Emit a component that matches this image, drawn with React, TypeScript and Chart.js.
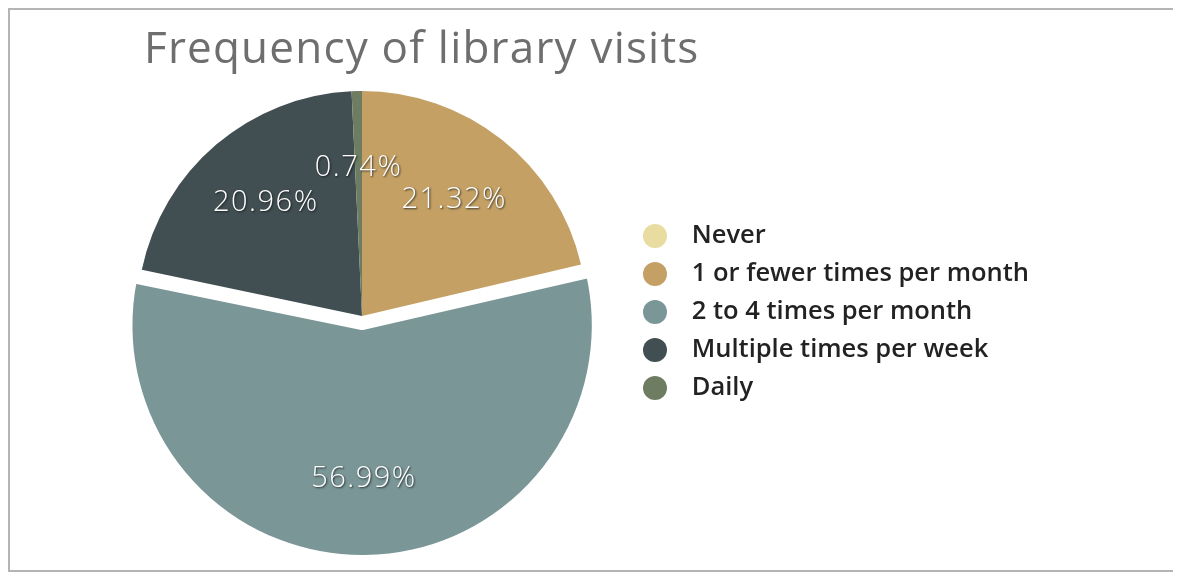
import React, { useEffect, useRef } from 'react';
import { Chart, registerables } from 'chart.js';

Chart.register(...registerables);

const chartTitle = 'Frequency of library visits';
const categories = [
  'Never',
  '1 or fewer times per month',
  '2 to 4 times per month',
  'Multiple times per week',
  'Daily',
];
const shares = [0, 21.32, 56.99, 20.96, 0.74];
const sliceColors = ['#e8dca0', '#c4a064', '#7b9697', '#414e52', '#6e7d62'];
const explodedIndex = 2;

const CANVAS_W = 1167;
const CANVAS_H = 560;
const LEGEND_FONT_SIZE = 25.5;
const LEGEND_FONT = `600 ${LEGEND_FONT_SIZE}px "Open Sans"`;
const LEGEND_PAD = 12.5;
const DOT_BOX = 36;
const LEGEND_LEFT = 620.5;

const makeDot = (color: string) => {
  const c = document.createElement('canvas');
  c.width = DOT_BOX;
  c.height = 26;
  const g = c.getContext('2d')!;
  g.fillStyle = color;
  g.beginPath();
  g.arc(12, 13, 12, 0, Math.PI * 2);
  g.fill();
  return c;
};

const titlePlugin = {
  id: 'pageTitle',
  afterDraw(chart: any) {
    const ctx = chart.ctx;
    ctx.save();
    ctx.font = '400 44px "Open Sans"';
    ctx.fillStyle = '#6e6e6e';
    ctx.textAlign = 'left';
    ctx.textBaseline = 'alphabetic';
    (ctx as any).letterSpacing = '1.2px';
    ctx.fillText(chartTitle, 134, 53);
    ctx.restore();
  },
};

const sliceLabelPlugin = {
  id: 'sliceLabels',
  afterDatasetsDraw(chart: any) {
    const meta = chart.getDatasetMeta(0);
    const ctx = chart.ctx;
    ctx.save();
    ctx.font = '300 29px "Open Sans"';
    ctx.textAlign = 'center';
    ctx.textBaseline = 'middle';
    ctx.fillStyle = '#ffffff';
    ctx.shadowColor = 'rgba(20,25,25,0.8)';
    ctx.shadowBlur = 2;
    ctx.shadowOffsetX = 1;
    ctx.shadowOffsetY = 1;
    (ctx as any).letterSpacing = '1.5px';
    meta.data.forEach((arc: any, i: number) => {
      const v = shares[i];
      if (!v) return;
      const p = arc.getProps(['x', 'y', 'startAngle', 'endAngle', 'outerRadius'], true);
      const mid = (p.startAngle + p.endAngle) / 2;
      const shift = (arc.options.offset || 0) / 4 + (arc.options.borderWidth || 0) / 2;
      const r = shift + p.outerRadius * 0.66;
      ctx.fillText(v.toFixed(2) + '%', p.x + Math.cos(mid) * r, p.y + Math.sin(mid) * r);
    });
    ctx.restore();
  },
};

export default function App() {
  const ref = useRef<HTMLCanvasElement | null>(null);

  useEffect(() => {
    if (!ref.current) return;
    const dots = sliceColors.map(makeDot);

    // measure legend width so the legend's left edge lands where intended
    const mctx = document.createElement('canvas').getContext('2d')!;
    mctx.font = LEGEND_FONT;
    const maxText = Math.max(...categories.map((t) => mctx.measureText(t).width));
    const legendW = LEGEND_PAD + DOT_BOX + LEGEND_FONT_SIZE / 2 + maxText + 10;
    const padRight = CANVAS_W - LEGEND_LEFT - legendW;
    const padLeft = 2 * 352 - LEGEND_LEFT;

    const chart = new Chart(ref.current, {
      type: 'pie',
      data: {
        labels: categories,
        datasets: [
          {
            data: shares,
            backgroundColor: sliceColors,
            borderColor: '#ffffff',
            borderWidth: categories.map((_, i) => (i === explodedIndex ? 9.33 : 0)),
            borderAlign: 'center',
            offset: categories.map((_, i) => (i === explodedIndex ? 37.33 : 0)),
            hoverOffset: 0,
            hoverBorderWidth: 0,
          } as any,
        ],
      },
      options: {
        responsive: false,
        animation: false,
        events: [],
        layout: { padding: { left: padLeft, right: padRight, top: 49.67, bottom: 5.67 } },
        plugins: {
          tooltip: { enabled: false },
          title: { display: false },
          subtitle: {
            display: true,
            text: ' ',
            padding: 0,
            font: { size: 10, lineHeight: 0.8 },
          },
          legend: {
            display: true,
            position: 'right',
            align: 'center',
            labels: {
              usePointStyle: true,
              pointStyleWidth: DOT_BOX,
              padding: LEGEND_PAD,
              color: '#222222',
              font: { family: '"Open Sans"', size: LEGEND_FONT_SIZE, weight: '600' },
              generateLabels: () =>
                categories.map((text, i) => ({
                  text,
                  fillStyle: sliceColors[i],
                  strokeStyle: sliceColors[i],
                  lineWidth: 0,
                  pointStyle: dots[i],
                  hidden: false,
                  index: i,
                  fontColor: '#222222',
                })),
            },
          },
        },
      } as any,
      plugins: [titlePlugin, sliceLabelPlugin],
    });
    return () => chart.destroy();
  }, []);

  return (
    <div
      style={{
        width: 1171,
        height: 564,
        border: '2px solid #b4b4b4',
        boxSizing: 'border-box',
        background: '#ffffff',
      }}
    >
      <canvas ref={ref} width={CANVAS_W} height={CANVAS_H} style={{ display: 'block' }} />
    </div>
  );
}
